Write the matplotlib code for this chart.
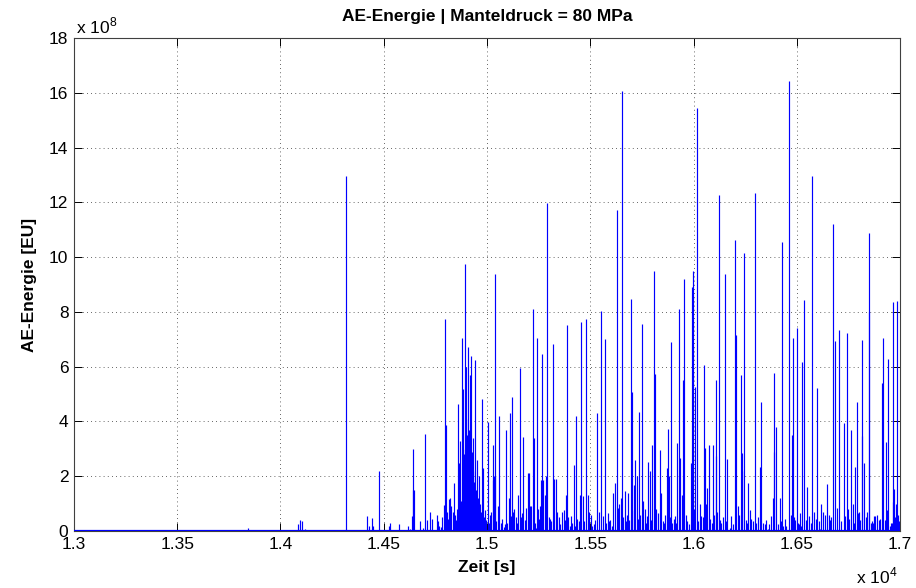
import matplotlib
matplotlib.use('Agg')
import matplotlib.pyplot as plt
from matplotlib.ticker import FormatStrFormatter, MultipleLocator
import numpy as np


plt.rcParams['font.family'] = ['Liberation Sans', 'DejaVu Sans']
plt.rcParams['mathtext.fontset'] = 'custom'
plt.rcParams['mathtext.rm'] = 'Liberation Sans'

#DATA=====================================================
# hit times [s] and AE energies [1e8 EU]
t_early = [13844, 14086, 14096, 14103, 14120, 14316, 14417, 14430, 14441, 14447,
           14479, 14525, 14532, 14572, 14616, 14625, 14635, 14640, 14643, 14648,
           14677, 14690, 14701, 14711, 14726, 14735, 14756, 14768, 14778, 14790,
           14798, 14801, 14805, 14815, 14823, 14833, 14839, 14845, 14850, 14855]
e_early = [0.10, 0.25, 0.40, 0.38, 0.08, 12.95, 0.55, 0.20, 0.46, 0.18,
           2.20, 0.20, 0.30, 0.25, 0.20, 0.08, 0.55, 1.50, 2.99, 1.50,
           0.37, 0.10, 3.54, 0.40, 0.70, 0.45, 0.60, 0.20, 0.15, 0.95,
           7.73, 3.87, 0.70, 1.16, 1.20, 0.70, 1.74, 0.60, 0.40, 0.80]

# dense burst around 1.49e4 s
t_burst = [14860, 14866, 14870, 14877, 14882, 14886, 14889, 14893, 14897, 14900,
           14904, 14907, 14911, 14914, 14918, 14920, 14923, 14927, 14930, 14934,
           14938, 14942, 14946, 14950, 14955, 14960, 14966, 14974]
e_burst = [4.62, 2.50, 3.30, 7.03, 3.00, 5.20, 2.80, 9.74, 6.00, 4.10,
           3.50, 6.71, 2.40, 3.70, 5.70, 3.20, 6.38, 2.90, 2.20, 3.40,
           1.80, 6.24, 1.50, 2.60, 1.20, 2.00, 1.00, 4.81]

t_mid = [14979, 14984, 14990, 15003, 15010, 15020, 15027, 15030, 15035, 15037,
         15040, 15060, 15068, 15080, 15092, 15097, 15105, 15113, 15123, 15128,
         15133, 15140, 15150, 15160, 15165, 15176, 15197, 15201, 15206, 15214,
         15221, 15226, 15236, 15241, 15246, 15262, 15268, 15273, 15280, 15288,
         15292, 15298, 15305, 15318, 15326, 15334, 15340, 15365, 15372, 15381,
         15386, 15392, 15400, 15421, 15426, 15431, 15445, 15450, 15455, 15466,
         15479, 15488, 15495, 15510, 15531, 15553, 15570, 15590, 15605, 15612,
         15621, 15628, 15640, 15647, 15655, 15667, 15685, 15690, 15699, 15702,
         15710, 15718, 15728, 15738, 15743, 15751, 15755, 15763, 15781, 15790,
         15800, 15807, 15812, 15820, 15838, 15845, 15855, 15862, 15870, 15875,
         15882, 15890, 15898, 15910, 15920, 15928, 15935, 15942, 15950, 15955,
         15970, 15986, 15993, 15996]
e_mid = [2.29, 0.50, 0.75, 3.99, 0.30, 0.70, 1.86, 3.14, 1.99, 2.00,
         9.38, 4.20, 0.30, 0.15, 3.69, 0.30, 1.19, 4.30, 4.88, 0.70,
         0.80, 0.50, 1.33, 5.96, 0.50, 3.42, 2.10, 2.10, 0.90, 0.90,
         8.11, 3.38, 0.10, 7.03, 0.80, 1.86, 6.46, 1.86, 1.30, 2.00,
         11.99, 0.50, 0.45, 6.82, 1.90, 1.90, 0.70, 0.70, 0.75, 1.31,
         7.53, 0.50, 0.20, 2.41, 0.20, 4.20, 0.35, 1.30, 7.62, 1.28,
         7.75, 1.30, 0.70, 0.20, 4.30, 8.04, 7.00, 0.35, 0.20, 1.38,
         1.74, 11.72, 1.00, 1.20, 16.08, 1.46, 1.40, 0.40, 8.47, 5.06,
         1.68, 2.59, 2.00, 4.33, 0.60, 7.55, 1.10, 0.80, 2.53, 2.20,
         3.14, 9.49, 5.73, 0.80, 2.96, 1.40, 0.30, 0.60, 2.29, 3.72,
         2.00, 6.90, 0.30, 0.55, 3.20, 8.11, 2.65, 1.30, 5.50, 9.20,
         0.35, 2.50, 8.91, 9.49]

t_late = [16008, 16017, 16030, 16045, 16052, 16055, 16060, 16066, 16073, 16094,
          16100, 16107, 16110, 16122, 16135, 16151, 16164, 16175, 16199, 16207,
          16215, 16229, 16233, 16236, 16246, 16264, 16299, 16305, 16322, 16329,
          16345, 16360, 16383, 16389, 16391, 16400, 16408, 16418, 16429, 16435,
          16450, 16461, 16470, 16475, 16480, 16490, 16499, 16510, 16520, 16527,
          16537, 16552, 16575, 16600, 16615, 16617, 16628, 16645, 16655, 16676,
          16687, 16703, 16727, 16742, 16750, 16761, 16770, 16784, 16790, 16800,
          16815, 16818, 16827, 16848, 16851, 16860, 16870, 16880, 16900, 16912,
          16919, 16930, 16942, 16950, 16960, 16964, 16966, 16972, 16980, 16985,
          16992]
e_late = [5.25, 15.43, 1.00, 0.50, 6.06, 3.02, 1.00, 1.56, 3.14, 3.14,
          0.60, 5.51, 2.74, 12.25, 0.30, 9.38, 2.62, 0.10, 10.62, 7.14,
          0.90, 5.70, 2.84, 2.20, 10.16, 1.74, 12.33, 0.30, 2.35, 4.72,
          0.25, 0.08, 1.19, 5.76, 2.90, 3.80, 0.25, 1.20, 10.56, 0.20,
          0.20, 16.44, 0.60, 3.50, 7.03, 0.40, 7.42, 0.25, 0.20, 6.16,
          8.43, 1.62, 12.95, 5.23, 0.08, 0.99, 0.70, 1.72, 0.60, 11.21,
          6.94, 7.34, 3.94, 7.22, 0.80, 3.69, 1.00, 2.35, 4.70, 0.70,
          3.47, 6.97, 2.50, 10.89, 8.00, 0.30, 0.30, 0.55, 0.40, 5.39,
          7.03, 3.26, 6.28, 0.20, 0.30, 1.07, 8.36, 1.55, 1.00, 8.40,
          0.60]

# low-energy background hits
t_small = [14763, 14782, 14811, 14828, 14862, 14874, 14891, 14902, 14916, 14925,
           14936, 14948, 14958, 14963, 14969, 14994, 15014, 15046, 15052, 15074,
           15086, 15118, 15145, 15171, 15183, 15190, 15231, 15252, 15257, 15311,
           15347, 15355, 15376, 15408, 15414, 15437, 15470, 15502, 15517, 15524,
           15541, 15560, 15578, 15584, 15597, 15633, 15661, 15674, 15679, 15714,
           15733, 15770, 15775, 15794, 15826, 15850, 15886, 15904, 15915, 15962,
           15976, 16002, 16024, 16038, 16081, 16088, 16116, 16129, 16142, 16157,
           16182, 16190, 16220, 16252, 16258, 16272, 16280, 16288, 16312, 16337,
           16352, 16368, 16375, 16422, 16444, 16485, 16505, 16515, 16545, 16560,
           16568, 16585, 16592, 16608, 16635, 16662, 16668, 16695, 16712, 16735,
           16755, 16776, 16795, 16808, 16835, 16842, 16866, 16875, 16890, 16905,
           16925, 16936, 16955, 16976, 16996]
e_small = [0.35, 0.50, 0.45, 0.90, 1.40, 1.10, 1.60, 1.90, 1.30, 1.70,
           1.20, 0.90, 0.80, 0.60, 0.70, 0.40, 0.60, 0.35, 0.90, 0.45,
           0.25, 0.55, 0.30, 0.65, 0.40, 0.85, 0.30, 0.45, 0.90, 0.35,
           0.50, 0.25, 0.40, 0.55, 0.30, 0.45, 0.35, 0.60, 0.25, 0.40,
           0.70, 0.55, 0.30, 0.65, 0.40, 0.85, 0.50, 0.35, 0.60, 0.75,
           0.45, 0.30, 0.55, 0.40, 0.65, 0.35, 0.50, 0.45, 0.30, 0.60,
           0.25, 0.80, 0.35, 0.55, 0.45, 0.30, 0.70, 0.40, 0.50, 0.35,
           0.55, 0.25, 0.60, 0.40, 0.30, 0.75, 0.45, 0.35, 0.50, 0.30,
           0.40, 0.25, 0.55, 0.35, 0.45, 0.50, 0.30, 0.65, 0.40, 0.55,
           0.30, 0.70, 0.45, 0.35, 0.60, 0.40, 0.50, 0.85, 0.35, 0.55,
           0.45, 0.30, 0.65, 0.40, 0.50, 0.70, 0.35, 0.55, 0.60, 0.45,
           0.40, 0.75, 0.30, 0.50, 0.35]

T_START, T_END = 13000, 17000
X_TICKS = [1.3, 1.35, 1.4, 1.45, 1.5, 1.55, 1.6, 1.65, 1.7]

#PLOT=====================================================
t_hits = np.array(t_early + t_burst + t_mid + t_late + t_small) / 1e4
e_hits = np.array(e_early + e_burst + e_mid + e_late + e_small)

fig = plt.figure(figsize=(9.16, 5.88), dpi=100)
ax = fig.add_axes([74/916, 1 - 531/588, 826/916, 493/588])

ax.axhline(0, color='b', lw=1.6, zorder=3)
ax.vlines(t_hits, 0, e_hits, color='b', lw=0.85, zorder=3)

ax.set_xlim(T_START/1e4, T_END/1e4)
ax.set_ylim(0, 18)
ax.set_xticks(X_TICKS)
ax.xaxis.set_major_formatter(FormatStrFormatter('%g'))
ax.yaxis.set_major_locator(MultipleLocator(2))

ax.grid(True, color='0.2', lw=0.6, linestyle=(0, (1, 4)))
ax.tick_params(direction='in', length=5.5, width=0.7, labelsize=12.5,
               top=True, right=True, pad=4)
for s in ax.spines.values():
    s.set_linewidth(0.8)
    s.set_color('0.25')

ax.set_title('AE-Energie | Manteldruck = 80 MPa', fontsize=12.5, fontweight='bold', pad=12)
ax.set_xlabel('Zeit [s]', fontsize=12.5, fontweight='bold')
ax.set_ylabel('AE-Energie [EU]', fontsize=12.5, fontweight='bold')
ax.xaxis.set_label_coords(0.5, -0.058)
ax.yaxis.label.set_va('center')
ax.yaxis.label.set_ha('center')
ax.yaxis.set_label_coords(-0.0533, 0.5)

# axis multipliers
fig.text(76/916, 1 - 33.5/588, r'x 10$^{8}$', fontsize=12.5, va='baseline')
fig.text(856/916, 1 - 583/588, r'x 10$^{4}$', fontsize=12.5, va='baseline')

fig.savefig('out.png', dpi=100)
